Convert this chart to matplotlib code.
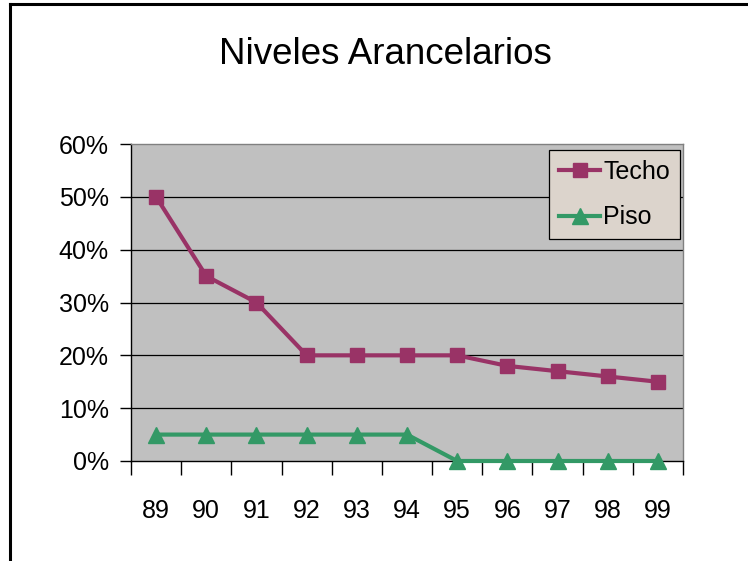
import numpy as np
import matplotlib.pyplot as plt
from matplotlib.lines import Line2D
from matplotlib.ticker import PercentFormatter

plt.rcParams['font.family'] = ['Liberation Sans', 'DejaVu Sans']

years = ["89", "90", "91", "92", "93", "94", "95", "96", "97", "98", "99"]
techo = [0.50, 0.35, 0.30, 0.20, 0.20, 0.20, 0.20, 0.18, 0.17, 0.16, 0.15]
piso = [0.05, 0.05, 0.05, 0.05, 0.05, 0.05, 0.0, 0.0, 0.0, 0.0, 0.0]

fig = plt.figure(figsize=(7.48, 5.61), dpi=100)
ax = fig.add_axes([131/748, 100/561, 552/748, 317/561])
ax.set_facecolor("#C0C0C0")

x = np.arange(len(years))
ax.plot(x, techo, color="#993366", lw=3, marker="s", ms=10.5, label="Techo", clip_on=False, zorder=3)
ax.plot(x, piso, color="#339966", lw=3, marker="^", ms=12, label="Piso", clip_on=False, zorder=3)

ax.set_xlim(-0.5, len(years) - 0.5)
ax.set_ylim(0, 0.6)
ax.set_yticks(np.arange(0, 0.61, 0.1))
ax.yaxis.set_major_formatter(PercentFormatter(1.0, decimals=0))
for yv in np.arange(0.1, 0.51, 0.1):
    ax.axhline(yv, color="black", lw=0.9, zorder=1)

ax.set_xticks(np.arange(-0.5, len(years), 1.0))
ax.set_xticklabels([])
ax.set_xticks(x, minor=True)
ax.set_xticklabels(years, minor=True)
ax.tick_params(axis="x", which="major", length=10, width=1, color="black", direction="out")
ax.tick_params(axis="x", which="minor", length=0, pad=27, labelsize=18)
ax.tick_params(axis="y", length=8, width=1, pad=8, labelsize=18)

for s in ["top", "right"]:
    ax.spines[s].set_color("#808080")
    ax.spines[s].set_linewidth(1)
for s in ["left", "bottom"]:
    ax.spines[s].set_color("black")
    ax.spines[s].set_linewidth(1)

leg = ax.legend(loc="upper right", bbox_to_anchor=(680/748, 1 - 150/561),
                bbox_transform=fig.transFigure, fontsize=18, frameon=True,
                fancybox=False, handlelength=1.65, handletextpad=0.12,
                borderpad=0.4, labelspacing=0.85, borderaxespad=0)
leg.get_frame().set_facecolor("#DCD4CC")
leg.get_frame().set_edgecolor("black")
leg.get_frame().set_linewidth(0.9)
leg.get_frame().set_alpha(1)

fig.text(0.515, 1 - 55/561, "Niveles Arancelarios", ha="center", va="center",
         fontsize=26.5)

fig.add_artist(Line2D([10/748, 10/748], [0, 1 - 4/561], color="black", lw=2.2))
fig.add_artist(Line2D([10/748, 1], [1 - 4/561, 1 - 4/561], color="black", lw=2.2))

fig.savefig("out.png", dpi=100)
